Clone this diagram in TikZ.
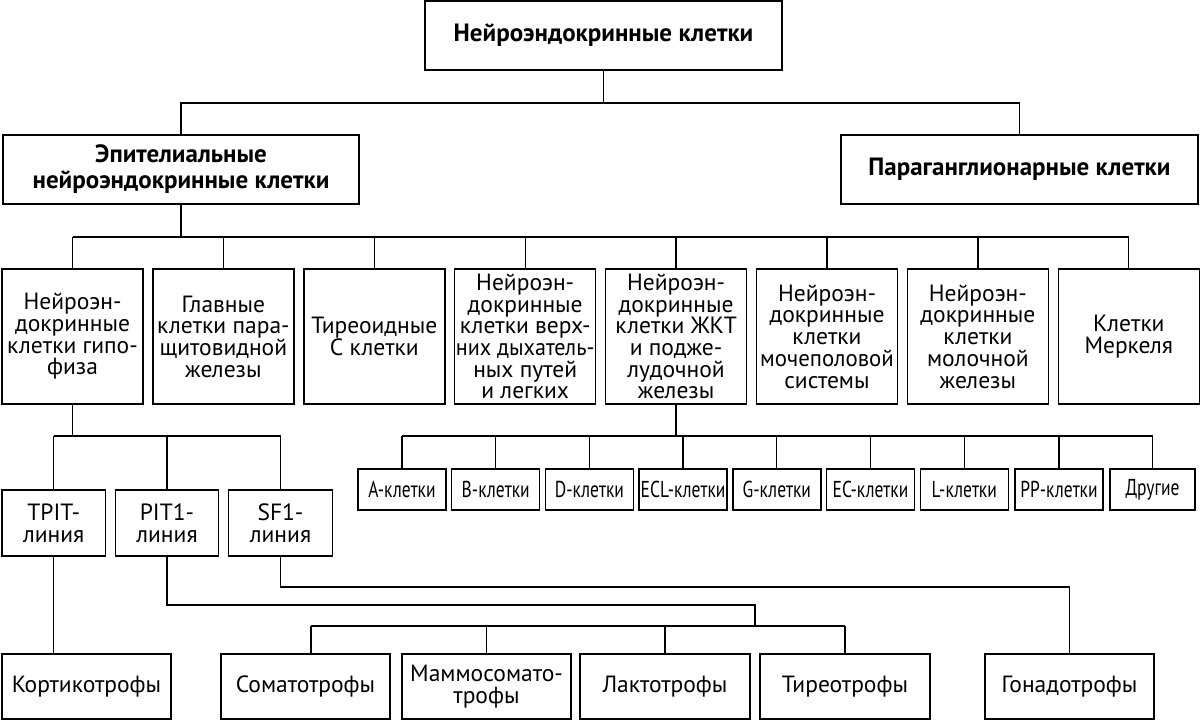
\documentclass[tikz,border=0pt]{standalone}
\usepackage{fontspec}
\setmainfont{PT Sans}
\usepackage{graphicx}
\newcommand{\regf}{\fontsize{23.5}{21.7}\selectfont}
\newcommand{\boldf}{\fontsize{25}{26}\selectfont\bfseries}
\newcommand{\cnd}[1]{\scalebox{0.76}[1]{#1}}
\begin{document}
\begin{tikzpicture}[x=1pt,y=-1pt,
  box/.style={draw, line width=1.4pt, inner sep=0pt, align=center, font=\regf},
  bbox/.style={box, font=\boldf, minimum height=69pt, minimum width=357pt},
  lbox/.style={box, minimum width=141pt, minimum height=135pt},
  tbox/.style={box, minimum width=103.5pt, minimum height=66pt},
  sbox/.style={box, font=\fontsize{23}{23}\selectfont, minimum width=88pt, minimum height=41pt},
  fbox/.style={box, minimum width=169pt, minimum height=65pt},
  conn/.style={line width=1.3pt}]
\useasboundingbox (0,0) rectangle (1200,721);
\fill[white] (0,0) rectangle (1200,721);
% level 1 and 2
\node[bbox] (top) at (603.5,35.5) {Нейроэндокринные клетки};
\node[bbox, minimum width=356pt] (epi) at (181,169.5) {Эпителиальные\\нейроэндокринные клетки};
\node[bbox] (para) at (1019.5,169.5) {Параганглионарные клетки};
% level 3
\node[lbox] (b1) at (72.5,336.5) {Нейроэн-\\докринные\\клетки гипо-\\физа};
\node[lbox] (b2) at (223.4,336.5) {Главные\\клетки пара-\\щитовидной\\железы};
\node[lbox] (b3) at (374.3,336.5) {Тиреоидные\\С клетки};
\node[lbox] (b4) at (525.2,336.5) {Нейроэн-\\докринные\\клетки верх-\\\scalebox{0.94}[1]{них дыхатель-}\\ных путей\\и легких};
\node[lbox] (b5) at (676.1,336.5) {Нейроэн-\\докринные\\клетки ЖКТ\\и подже-\\лудочной\\железы};
\node[lbox] (b6) at (827,336.5) {Нейроэн-\\докринные\\клетки\\\scalebox{0.97}[1]{мочеполовой}\\системы};
\node[lbox] (b7) at (977.9,336.5) {Нейроэн-\\докринные\\клетки\\молочной\\железы};
\node[lbox] (b8) at (1128.8,336.5) {Клетки\\Меркеля};
% pituitary lines
\node[tbox] (tpit) at (53.7,523) {TPIT-\\линия};
\node[tbox] (pit) at (167,523) {PIT1-\\линия};
\node[tbox] (sf) at (280.5,523) {SF1-\\линия};
% GI cells
\node[sbox] (s1) at (402,489.5) {\cnd{A-клетки}};
\node[sbox] (s2) at (495.7,489.5) {\cnd{B-клетки}};
\node[sbox] (s3) at (589.4,489.5) {\cnd{D-клетки}};
\node[sbox] (s4) at (683.1,489.5) {\cnd{ECL-клетки}};
\node[sbox] (s5) at (776.8,489.5) {\cnd{G-клетки}};
\node[sbox] (s6) at (870.5,489.5) {\cnd{EC-клетки}};
\node[sbox] (s7) at (964.2,489.5) {\cnd{L-клетки}};
\node[sbox] (s8) at (1059,489.5) {\cnd{PP-клетки}};
\node[sbox, minimum width=85pt] (s9) at (1152.5,489.5) {\cnd{Другие}};
% final cells
\node[fbox] (kort) at (86.5,686.5) {Кортикотрофы};
\node[fbox] (soma) at (305.5,686.5) {Соматотрофы};
\node[fbox] (mamm) at (486.5,686.5) {Маммосомато-\\трофы};
\node[fbox, minimum width=170pt] (lakt) at (665,686.5) {Лактотрофы};
\node[fbox, minimum width=170pt] (tire) at (845,686.5) {Тиреотрофы};
\node[fbox] (gona) at (1069.5,686.5) {Гонадотрофы};
% junction coordinates
\coordinate (j1) at (0,103);
\coordinate (j2) at (0,237);
\coordinate (j3) at (0,436);
\coordinate (j4) at (0,587);
\coordinate (hub) at (755,605);
\coordinate (j6) at (0,626);
\coordinate (sm) at ([xshift=5.5pt]soma.north);
% connectors
\draw[conn] (top.south) -- (top.south|-j1) -| (epi.north);
\draw[conn] (top.south|-j1) -| (para.north);
\draw[conn] (epi.south) -- (epi.south|-j2);
\draw[conn] (b1.north|-j2) -- (b8.north|-j2);
\foreach \b in {b1,b2,b3,b4,b5,b6,b7,b8} \draw[conn] (\b.north) -- (\b.north|-j2);
\draw[conn] (b1.south) -- (b1.south|-j3);
\draw[conn] (tpit.north|-j3) -- (sf.north|-j3);
\foreach \b in {tpit,pit,sf} \draw[conn] (\b.north) -- (\b.north|-j3);
\draw[conn] (b5.south) -- (b5.south|-j3);
\draw[conn] (s1.north|-j3) -- (s9.north|-j3);
\foreach \b in {s1,s2,s3,s4,s5,s6,s7,s8,s9} \draw[conn] (\b.north) -- (\b.north|-j3);
\draw[conn] (tpit.south) -- (tpit.south|-kort.north);
\draw[conn] (sf.south) -- (sf.south|-j4) -| (gona.north);
\draw[conn] (pit.south) |- (hub) -- (hub|-j6);
\draw[conn] (sm|-j6) -- (tire.north|-j6);
\draw[conn] (sm) -- (sm|-j6);
\foreach \b in {mamm,lakt,tire} \draw[conn] (\b.north) -- (\b.north|-j6);
\end{tikzpicture}
\end{document}
